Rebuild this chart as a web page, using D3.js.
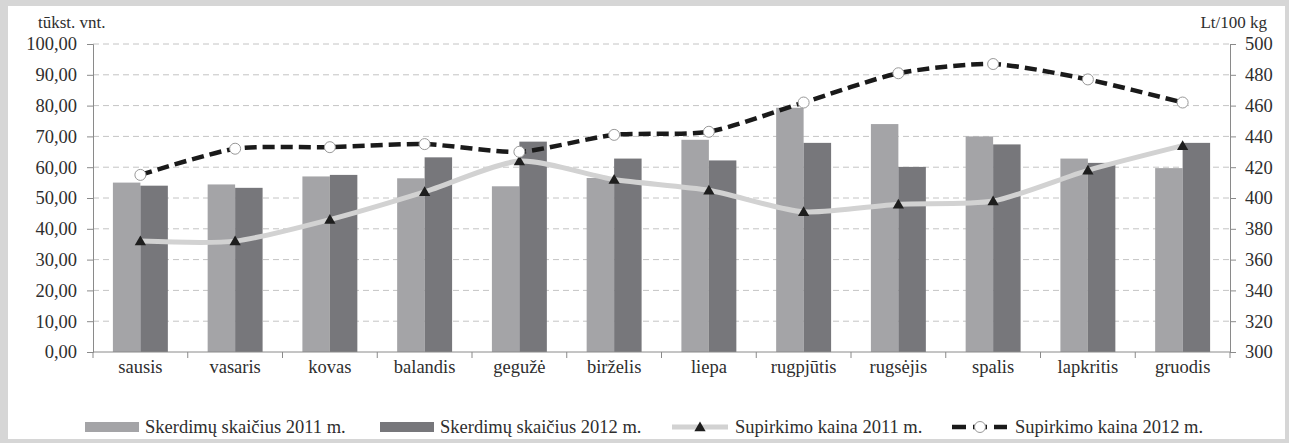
<!DOCTYPE html>
<meta charset="utf-8">
<style>
body { margin: 0; background: #fff; }
svg text { font-family: "Liberation Serif", "Times New Roman", serif; fill: #2e2e2e; }
.grid line { stroke: #c4c4c4; stroke-dasharray: 6,4; }
.axis path, .axis line { stroke: #8a8a8a; }
</style>
<svg width="1289" height="443"></svg>
<script src="https://d3js.org/d3.v7.min.js"></script>
<script>

var months = ["sausis", "vasaris", "kovas", "balandis", "gegužė", "birželis",
              "liepa", "rugpjūtis", "rugsėjis", "spalis", "lapkritis", "gruodis"];

// skerdimu skaicius, tukst. vnt.
var slaughter2011 = [55.0, 54.4, 57.0, 56.4, 53.8, 56.5, 68.9, 79.3, 74.0, 70.0, 62.8, 59.7];
var slaughter2012 = [54.0, 53.3, 57.5, 63.2, 68.3, 62.8, 62.2, 67.9, 60.1, 67.4, 61.4, 67.9];

// supirkimo kaina, Lt/100 kg
var price2011 = [372, 372, 386, 404, 424, 412, 405, 391, 396, 398, 418, 434];
var price2012 = [415, 432, 433, 435, 430, 441, 443, 462, 481, 487, 477, 462];

var leftTicks = [0, 10, 20, 30, 40, 50, 60, 70, 80, 90, 100];
var rightTicks = [300, 320, 340, 360, 380, 400, 420, 440, 460, 480, 500];

var svg = d3.select("svg"),
    width = +svg.attr("width"),
    height = +svg.attr("height");

var plotL = 93, plotR = 1230, plotT = 44, plotB = 352;
var fontSize = "18.5px";

// frame
svg.append("rect").attr("width", width).attr("height", height).attr("fill", "#d6d6d6");
svg.append("rect").attr("x", 8).attr("y", 6).attr("width", width - 12).attr("height", height - 10).attr("fill", "#fff");

var x = d3.scaleBand().domain(months).range([plotL, plotR]).paddingInner(0.42).paddingOuter(0.21);
var xs = d3.scaleBand().domain(["2011", "2012"]).range([0, x.bandwidth()]);
var y = d3.scaleLinear().domain([0, 100]).range([plotB, plotT]);
var y2 = d3.scaleLinear().domain([300, 500]).range([plotB, plotT]);

// gridlines
svg.append("g").attr("class", "grid")
  .selectAll("line").data(leftTicks.slice(1)).enter().append("line")
  .attr("x1", plotL).attr("x2", plotR)
  .attr("y1", function(d) { return y(d); }).attr("y2", function(d) { return y(d); });

// bars
var bars = svg.append("g");
months.forEach(function(m, i) {
  bars.append("rect")
    .attr("x", x(m) + xs("2011")).attr("width", xs.bandwidth())
    .attr("y", y(slaughter2011[i])).attr("height", y(0) - y(slaughter2011[i]))
    .attr("fill", "#a4a4a7");
  bars.append("rect")
    .attr("x", x(m) + xs("2012")).attr("width", xs.bandwidth())
    .attr("y", y(slaughter2012[i])).attr("height", y(0) - y(slaughter2012[i]))
    .attr("fill", "#77777b");
});

// axes
svg.append("g").attr("class", "axis")
  .attr("transform", "translate(" + plotL + ",0)")
  .call(d3.axisLeft(y).tickValues(leftTicks).tickSizeOuter(0).tickSize(6).tickPadding(10)
    .tickFormat(function(d) { return d3.format(".2f")(d).replace(".", ","); }));

svg.append("g").attr("class", "axis")
  .attr("transform", "translate(" + plotR + ",0)")
  .call(d3.axisRight(y2).tickValues(rightTicks).tickSizeOuter(0).tickSize(6).tickPadding(9));

var boundaries = months.map(function(m) { return x(m) - x.step() * 0.21; }).concat([plotR]);
var bottomAxis = svg.append("g").attr("class", "axis");
bottomAxis.append("line").attr("x1", plotL).attr("x2", plotR).attr("y1", plotB).attr("y2", plotB);
bottomAxis.selectAll("line.tk").data(boundaries).enter().append("line").attr("class", "tk")
  .attr("x1", function(d) { return d; }).attr("x2", function(d) { return d; })
  .attr("y1", plotB).attr("y2", plotB + 6);
bottomAxis.selectAll("text").data(months).enter().append("text")
  .attr("x", function(d) { return x(d) + x.bandwidth() / 2; })
  .attr("y", 373)
  .attr("text-anchor", "middle")
  .text(function(d) { return d; });

svg.selectAll(".axis text").style("font-size", fontSize).attr("fill", "#2e2e2e");

// axis titles
svg.append("text").attr("x", 38).attr("y", 28).style("font-size", "17px").text("tūkst. vnt.");
svg.append("text").attr("x", 1267).attr("y", 28).attr("text-anchor", "end").style("font-size", "17px").text("Lt/100 kg");

// price lines
var cx = function(i) { return x(months[i]) + x.bandwidth() / 2; };
var priceLine = d3.line().x(function(d, i) { return cx(i); }).y(function(d) { return y2(d); })
  .curve(d3.curveCardinal.tension(0.3));

svg.append("path").datum(price2011).attr("d", priceLine)
  .attr("fill", "none").attr("stroke", "#d2d2d2").attr("stroke-width", 5);

svg.append("path").datum(price2012).attr("d", priceLine)
  .attr("fill", "none").attr("stroke", "#1a1a1a").attr("stroke-width", 4.5)
  .attr("stroke-dasharray", "12,6");

var tri = d3.symbol().type(d3.symbolTriangle).size(55);
svg.append("g").selectAll("path").data(price2011).enter().append("path")
  .attr("d", tri)
  .attr("transform", function(d, i) { return "translate(" + cx(i) + "," + (y2(d) + 1) + ")"; })
  .attr("fill", "#1e1e1e");

svg.append("g").selectAll("circle").data(price2012).enter().append("circle")
  .attr("cx", function(d, i) { return cx(i); }).attr("cy", function(d) { return y2(d); })
  .attr("r", 5.5).attr("fill", "#fff").attr("stroke", "#999").attr("stroke-width", 1);

// legend
var ly = 427;
var legend = svg.append("g").style("font-size", fontSize);
legend.append("rect").attr("x", 85).attr("y", ly - 5).attr("width", 54).attr("height", 10).attr("fill", "#a4a4a7");
legend.append("text").attr("x", 145).attr("y", ly + 6).text("Skerdimų skaičius 2011 m.");
legend.append("rect").attr("x", 380).attr("y", ly - 5).attr("width", 54).attr("height", 10).attr("fill", "#77777b");
legend.append("text").attr("x", 440).attr("y", ly + 6).text("Skerdimų skaičius 2012 m.");
legend.append("line").attr("x1", 672).attr("x2", 728).attr("y1", ly).attr("y2", ly)
  .attr("stroke", "#d2d2d2").attr("stroke-width", 5);
legend.append("path").attr("d", tri).attr("transform", "translate(700," + (ly + 1) + ")").attr("fill", "#1e1e1e");
legend.append("text").attr("x", 735).attr("y", ly + 6).text("Supirkimo kaina 2011 m.");
legend.append("line").attr("x1", 952).attr("x2", 1007).attr("y1", ly).attr("y2", ly)
  .attr("stroke", "#1a1a1a").attr("stroke-width", 4.5).attr("stroke-dasharray", "14,7");
legend.append("circle").attr("cx", 980).attr("cy", ly).attr("r", 5.5).attr("fill", "#fff").attr("stroke", "#999");
legend.append("text").attr("x", 1015).attr("y", ly + 6).text("Supirkimo kaina 2012 m.");

</script>
